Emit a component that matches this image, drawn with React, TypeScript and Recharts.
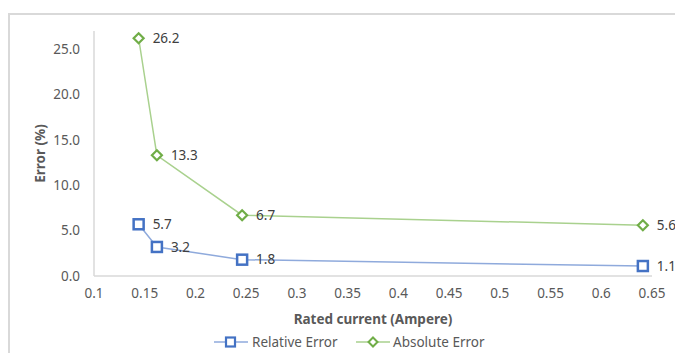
import React from 'react';
import { LineChart, Line, XAxis, YAxis, Legend, LabelList } from 'recharts';

const xValues = [0.144, 0.162, 0.246, 0.641];
const relativeError = [5.7, 3.2, 1.8, 1.1];
const absoluteError = [26.2, 13.3, 6.7, 5.6];
const xTicks = [0.1, 0.15, 0.2, 0.25, 0.3, 0.35, 0.4, 0.45, 0.5, 0.55, 0.6, 0.65];
const yTicks = [0, 5, 10, 15, 20, 25];
const seriesNames = ['Relative Error', 'Absolute Error'];

const data = xValues.map((x, i) => ({ x, rel: relativeError[i], abs: absoluteError[i] }));

const FONT = '"Noto Sans", sans-serif';
const BLUE = '#4472C4';
const BLUE_LINE = '#8FAADC';
const GREEN = '#70AD47';
const GREEN_LINE = '#A9D18E';

const SquareDot = (props: any) => {
  const { cx, cy, index } = props;
  if (cx == null || cy == null) return <g key={index} />;
  return <rect key={index} x={cx - 5} y={cy - 5} width={10} height={10} fill="#fff" stroke={BLUE} strokeWidth={2.5} />;
};

const DiamondDot = (props: any) => {
  const { cx, cy, index } = props;
  if (cx == null || cy == null) return <g key={index} />;
  const r = 5;
  return (
    <path
      key={index}
      d={`M${cx},${cy - r}L${cx + r},${cy}L${cx},${cy + r}L${cx - r},${cy}Z`}
      fill="#fff"
      stroke={GREEN}
      strokeWidth={2.2}
    />
  );
};

const LegendContent = () => (
  <div style={{ position: 'relative', width: 675, height: 20, fontFamily: FONT, fontSize: 13.5, color: '#595959' }}>
    <svg width={36} height={20} style={{ position: 'absolute', left: 214, top: 0 }}>
      <line x1={0} y1={10} x2={34} y2={10} stroke={BLUE_LINE} strokeWidth={1.5} />
      <rect x={12} y={5.5} width={9} height={9} fill="#fff" stroke={BLUE} strokeWidth={2.2} />
    </svg>
    <span style={{ position: 'absolute', left: 252, top: 0, lineHeight: '20px', whiteSpace: 'nowrap' }}>{seriesNames[0]}</span>
    <svg width={36} height={20} style={{ position: 'absolute', left: 356, top: 0 }}>
      <line x1={0} y1={10} x2={34} y2={10} stroke={GREEN_LINE} strokeWidth={1.5} />
      <path d="M17,5.5L21.5,10L17,14.5L12.5,10Z" fill="#fff" stroke={GREEN} strokeWidth={2} />
    </svg>
    <span style={{ position: 'absolute', left: 393, top: 0, lineHeight: '20px', whiteSpace: 'nowrap' }}>{seriesNames[1]}</span>
  </div>
);

export default function App() {
  return (
    <div style={{ position: 'absolute', left: 0, top: 0, width: 675, height: 353, overflow: 'hidden', background: '#fff' }}>
      <div
        style={{
          position: 'absolute',
          left: 8,
          top: 13,
          width: 720,
          height: 400,
          border: '2px solid #D9D9D9',
          boxSizing: 'border-box',
        }}
      />
      <div style={{ position: 'absolute', left: 0, top: 0 }}>
        <LineChart
          width={675}
          height={353}
          data={data}
          margin={{ top: 31, right: 23, bottom: 27, left: 34 }}
          style={{ fontFamily: FONT }}
        >
          <XAxis
            type="number"
            dataKey="x"
            domain={[0.1, 0.65]}
            ticks={xTicks}
            tickFormatter={(v: number) => String(+v.toFixed(2))}
            allowDataOverflow
            height={50}
            tickSize={0}
            tickMargin={12}
            axisLine={{ stroke: '#D9D9D9', strokeWidth: 1.5 }}
            tickLine={false}
            tick={{ fill: '#595959', fontSize: 13.5, fontFamily: FONT }}
            label={{
              value: 'Rated current (Ampere)',
              position: 'insideBottom',
              offset: 2,
              fill: '#595959',
              fontSize: 13.5,
              fontWeight: 'bold',
              fontFamily: FONT,
            }}
          />
          <YAxis
            type="number"
            domain={[0, 27]}
            ticks={yTicks}
            allowDataOverflow
            width={60}
            tickSize={0}
            tickMargin={14}
            tickFormatter={(v: number) => v.toFixed(1)}
            axisLine={{ stroke: '#D9D9D9', strokeWidth: 1.5 }}
            tickLine={false}
            tick={{ fill: '#595959', fontSize: 13.5, fontFamily: FONT }}
            label={{
              value: 'Error (%)',
              angle: -90,
              position: 'insideLeft',
              offset: 6,
              fill: '#595959',
              fontSize: 13.5,
              fontWeight: 'bold',
              fontFamily: FONT,
              style: { textAnchor: 'middle' },
            }}
          />
          <Legend
            layout="horizontal"
            verticalAlign="middle"
            align="center"
            wrapperStyle={{ top: 332, left: 0, width: 675 }}
            content={<LegendContent />}
          />
          <Line
            type="linear"
            dataKey="rel"
            name={seriesNames[0]}
            stroke={BLUE_LINE}
            strokeWidth={1.5}
            dot={SquareDot}
            activeDot={false}
            isAnimationActive={false}
          >
            <LabelList dataKey="rel" position="right" offset={14} fill="#404040" fontSize={13.5} fontFamily={FONT} formatter={(v: number) => v.toFixed(1)} />
          </Line>
          <Line
            type="linear"
            dataKey="abs"
            name={seriesNames[1]}
            stroke={GREEN_LINE}
            strokeWidth={1.5}
            dot={DiamondDot}
            activeDot={false}
            isAnimationActive={false}
          >
            <LabelList dataKey="abs" position="right" offset={14} fill="#404040" fontSize={13.5} fontFamily={FONT} formatter={(v: number) => v.toFixed(1)} />
          </Line>
        </LineChart>
      </div>
    </div>
  );
}
